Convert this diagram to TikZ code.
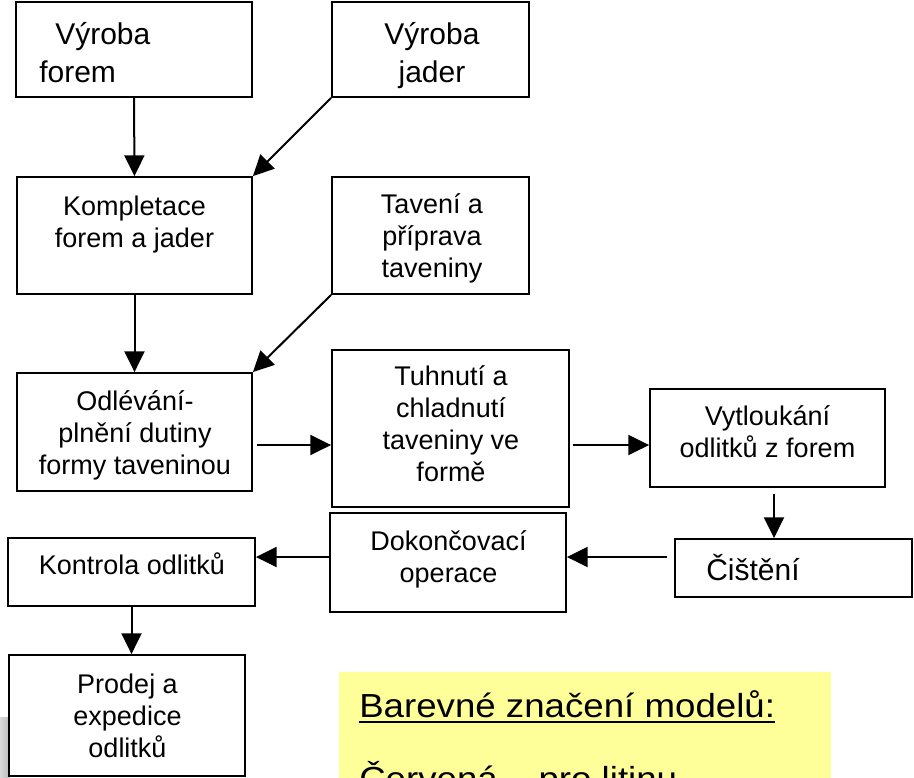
\documentclass[tikz,border=0pt]{standalone}
\usepackage{fontspec}
\setmainfont{Liberation Sans}
\usetikzlibrary{arrows.meta,fit}
\definecolor{legbg}{HTML}{FFFF99}
\begin{document}
\begin{tikzpicture}[x=0.75pt,y=-0.75pt,
  box/.style={draw=black, line width=1.4pt, fill=white, inner sep=0pt},
  txt/.style={font=\fontsize{20.25pt}{24pt}\selectfont, align=center, inner sep=0pt, anchor=north},
  bigtxt/.style={font=\fontsize{22.5pt}{28.5pt}\selectfont, inner sep=0pt},
  legtxt/.style={font=\fontsize{25pt}{30pt}\selectfont, inner sep=0pt, anchor=base west},
  arr/.style={line width=1.5pt, -{Triangle[length=15.5pt,width=15pt]}}]
\useasboundingbox (0,0) rectangle (914,778);
\clip (0,0) rectangle (914,778);
\fill[white] (0,0) rectangle (914,778);
% grey background fragment
\shade[left color=gray!30, right color=gray!55] (0,717) rectangle (10,778);
% boxes
\node (vf)  [box, fit={(16,2)(252,97)}] {};
\node (vj)  [box, fit={(332,2)(529,97)}] {};
\node (kom) [box, fit={(17,177)(252,294)}] {};
\node (tav) [box, fit={(332,177)(529,294)}] {};
\node (odl) [box, fit={(17,373)(252,491)}] {};
\node (tuh) [box, fit={(332,350)(569,507)}] {};
\node (vyt) [box, fit={(650,389)(885,487)}] {};
\node (cis) [box, fit={(675,539)(912,597)}] {};
\node (dok) [box, fit={(330,513)(566,612)}] {};
\node (kon) [box, fit={(8,538)(255,606)}] {};
\node (pro) [box, fit={(9,655)(245,776)}] {};
% texts
\node (tvf) [bigtxt, align=left, anchor=north west] at (39,17.4) {\strut\hspace*{12pt}Výroba\\\strut forem};
\node (tvj) [bigtxt, align=center, anchor=north] at (432,17.4) {\strut Výroba\\\strut jader};
\node (tkom) [txt] at (134.5,192.6) {\strut Kompletace\\\strut forem a jader};
\node (ttav) [txt] at (432,190.6) {\strut Tavení a\\\strut příprava\\\strut taveniny};
\node (todl) [txt] at (135,387.6) {\strut Odlévání-\\\strut plnění dutiny\\\strut formy taveninou};
\node (ttuh) [txt] at (451,362.6) {\strut Tuhnutí a\\\strut chladnutí\\\strut taveniny ve\\\strut formě};
\node (tvyt) [txt] at (767.5,402.6) {\strut Vytloukání\\\strut odlitků z forem};
\node (tcis) [bigtxt, anchor=base west] at (706,580) {Čištění};
\node (tdok) [txt] at (448.5,527.6) {\strut Dokončovací\\\strut operace};
\node (tkon) [txt] at (132,551.6) {\strut Kontrola odlitků};
\node (tpro) [txt] at (127.5,670.6) {\strut Prodej a\\\strut expedice\\\strut odlitků};
% connectors
\coordinate (r1) at (0,445);
\coordinate (r2) at (0,557);
\coordinate (c1) at (774,0);
\draw[arr] (vf.south) -- (kom.north);
\draw[arr] (vj.south west) -- (kom.north east);
\draw[arr] (kom.south) -- (odl.north);
\draw[arr] (tav.south west) -- (odl.north east);
\draw[arr, shorten <=3pt] (odl.east |- r1) -- (tuh.west |- r1);
\draw[arr, shorten <=2pt] (tuh.east |- r1) -- (vyt.west |- r1);
\draw[arr, shorten <=4.5pt] (c1 |- vyt.south) -- (c1 |- cis.north);
\draw[arr, shorten <=5pt] (cis.west |- r2) -- (dok.east |- r2);
\draw[arr] (dok.west |- r2) -- (kon.east |- r2);
\draw[arr] (kon.south) -- (kon.south |- pro.north);
% legend
\node (leg) [fill=legbg, inner sep=0pt, fit={(339,672)(831,800)}] {};
\node (leg1) [legtxt] at (359,717) {\scalebox{1.1}[1]{Barevné značení modelů:}};
\draw[line width=1.3pt] ([yshift=-3.9pt]leg1.base west) -- ([yshift=-3.9pt]leg1.base east);
\node (leg2) [legtxt] at (359,790) {\scalebox{1.1}[1]{Červená – pro litinu}};
\end{tikzpicture}
\end{document}
